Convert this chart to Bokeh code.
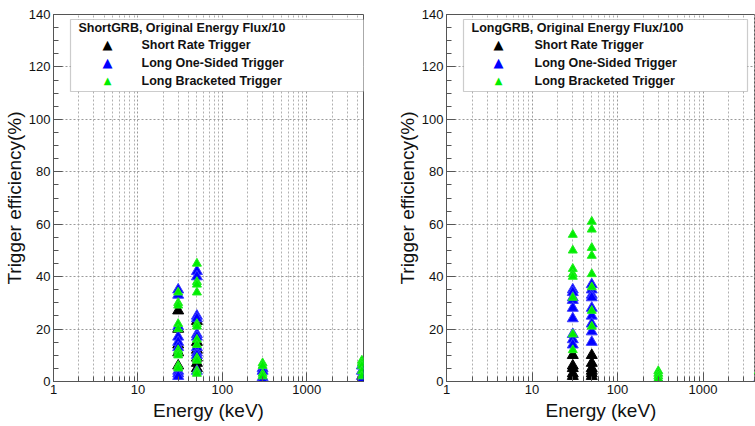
import math
from bokeh.plotting import figure
from bokeh.layouts import row
from bokeh.models import (Range1d, FixedTicker, SingleIntervalTicker, BoxAnnotation, Label)
from bokeh.embed import file_html
from bokeh.resources import INLINE

# ---------------- data ----------------
energies = [30, 50, 300, 4500]
x_ticks = [1, 10, 100, 1000]
x_minor = [2, 3, 4, 5, 6, 7, 8, 9, 20, 30, 40, 50, 60, 70, 80, 90,
           200, 300, 400, 500, 600, 700, 800, 900, 2000, 3000, 4000]
series_names = ["Short Rate Trigger", "Long One-Sided Trigger", "Long Bracketed Trigger"]
titles = ["ShortGRB, Original Energy Flux/10", "LongGRB, Original Energy Flux/100"]

# ShortGRB panel: efficiency values at each energy (30, 50, 300, 4500 keV)
short_rate_s = [[27, 20, 14, 11, 6], [23, 15, 12, 9, 7, 5], [0.5], [0.5]]
long_one_s = [[35, 33, 21, 17, 15, 13, 4, 3, 2], [42, 40, 25, 24, 18, 17, 13, 11, 10, 4],
              [5, 4, 1.5, 0.5], [6, 4, 2, 0.5]]
long_brk_s = [[34, 30, 29, 22, 20, 12, 11, 10, 6, 5], [45, 38, 37, 34, 22, 21, 16, 14, 9, 8, 4, 3],
              [7, 6, 3, 2], [8, 7, 6, 4, 2]]

# LongGRB panel
short_rate_l = [[10, 6, 5, 3, 2], [10, 7, 5, 4, 3, 2], [0.3], [0.3]]
long_one_l = [[35, 34, 32, 31, 28, 24, 18, 16, 14], [37, 35, 33, 32, 28, 25, 22, 19, 15],
              [0.5], [1, 0.5]]
long_brk_l = [[56, 50, 43, 41, 40, 32, 18, 12], [61, 58, 51, 48, 41, 36, 27, 21],
              [4, 3, 2, 1], [4, 2, 1]]

colors = ["#000000", "#0000ff", "#00ee00"]
line_colors = ["#000000", "#3c3cff", "#22ee22"]
sizes = [11, 11, 9]
leg_sizes = ["13px", "13px", "10px"]

FONT = "Liberation Sans"
AXC = "#555555"


def flatten(groups):
    xs, ys = [], []
    for e, vals in zip(energies, groups):
        for v in vals:
            xs.append(e)
            ys.append(v)
    return xs, ys


def make_panel(width, bl, br, xend, title, groups):
    p = figure(width=width, height=426, x_axis_type="log",
               x_range=Range1d(1, xend), y_range=Range1d(0, 140),
               output_backend="svg", toolbar_location=None,
               min_border_left=bl, min_border_right=br,
               min_border_top=14, min_border_bottom=45)
    p.background_fill_color = "white"
    p.border_fill_color = "white"
    p.outline_line_color = AXC
    p.outline_line_width = 1

    p.xaxis.ticker = FixedTicker(ticks=x_ticks, minor_ticks=x_minor)
    p.xaxis.major_label_overrides = {t: str(t) for t in x_ticks}
    p.yaxis.ticker = SingleIntervalTicker(interval=20, num_minor_ticks=4)

    for ax in (p.xaxis, p.yaxis):
        ax.axis_line_color = AXC
        ax.major_tick_line_color = AXC
        ax.minor_tick_line_color = AXC
        ax.major_tick_in = 9
        ax.major_tick_out = 0
        ax.minor_tick_in = 5
        ax.minor_tick_out = 0
        ax.major_label_text_font = FONT
        ax.major_label_text_font_size = "13px"
        ax.major_label_text_color = "#111111"
        ax.axis_label_text_font = FONT
        ax.axis_label_text_font_size = "19px"
        ax.axis_label_text_font_style = "normal"
        ax.axis_label_text_color = "#111111"
    p.xaxis.axis_label = "Energy (keV)"
    p.yaxis.axis_label = "Trigger efficiency(%)"
    p.xaxis.major_label_standoff = 3
    p.xaxis.axis_label_standoff = 3
    p.yaxis.major_label_standoff = 3
    p.yaxis.axis_label_standoff = 1

    p.xgrid.grid_line_color = "#9a9a9a"
    p.xgrid.grid_line_dash = "2 2"
    p.xgrid.minor_grid_line_color = "#b0b0b0"
    p.xgrid.minor_grid_line_dash = "2 2"
    p.ygrid.grid_line_color = "#9a9a9a"
    p.ygrid.grid_line_dash = "2 2"

    for i, grp in enumerate(groups):
        xs, ys = flatten(grp)
        p.scatter(xs, ys, marker="triangle", size=sizes[i],
                  fill_color=colors[i], line_color=line_colors[i], line_width=1)

    # legend box
    p.add_layout(BoxAnnotation(left=17, right=(312 if bl < 60 else 301), top=362, bottom=290,
                               left_units="screen", right_units="screen",
                               top_units="screen", bottom_units="screen",
                               fill_color="white", fill_alpha=1.0,
                               line_color=AXC, line_width=1.2))
    p.add_layout(Label(x=25, y=354, x_units="screen", y_units="screen", text=title,
                       text_font=FONT, text_font_size="12.5px", text_font_style="bold",
                       text_baseline="middle", text_align="left", text_color="#111111"))
    ys_leg = [337, 319, 301]
    mx = 54 if bl < 60 else 52
    for i, name in enumerate(series_names):
        p.add_layout(Label(x=mx, y=ys_leg[i], x_units="screen", y_units="screen",
                           text="\u25B2", text_font="DejaVu Sans", text_font_size=leg_sizes[i],
                           text_baseline="middle", text_align="center", text_color=colors[i]))
        p.add_layout(Label(x=88, y=ys_leg[i], x_units="screen", y_units="screen", text=name,
                           text_font=FONT, text_font_size="12.5px", text_font_style="bold",
                           text_baseline="middle", text_align="left", text_color="#111111"))
    return p


px_per_dec = 85.5
left_frame = 380 - 49 - 17
right_frame = 375 - 66 - 0
p1 = make_panel(380, 49, 17, 10 ** (left_frame / px_per_dec), titles[0],
                [short_rate_s, long_one_s, long_brk_s])
p2 = make_panel(375, 66, 0, 10 ** (right_frame / px_per_dec), titles[1],
                [short_rate_l, long_one_l, long_brk_l])

layout = row(p1, p2)
open("out.html", "w").write(file_html(layout, INLINE))
